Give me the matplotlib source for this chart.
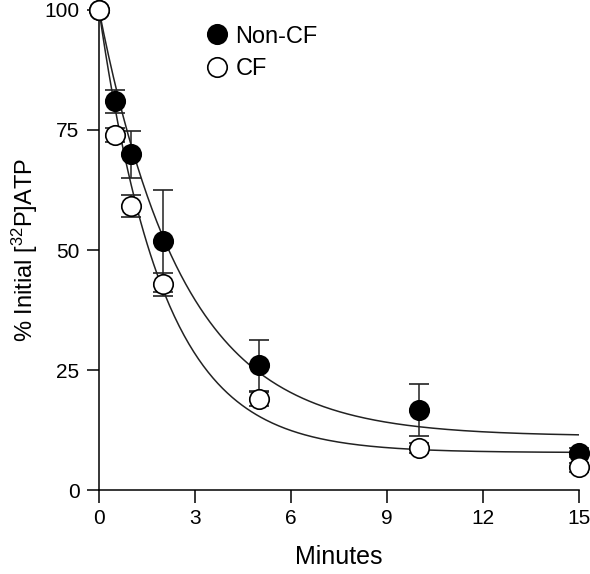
import numpy as np
import matplotlib.pyplot as plt
from matplotlib.lines import Line2D

plt.rcParams['font.family'] = ['Liberation Sans', 'DejaVu Sans']
plt.rcParams['mathtext.fontset'] = 'custom'
plt.rcParams['mathtext.rm'] = 'Liberation Sans'
plt.rcParams['mathtext.default'] = 'regular'

minutes = [0, 0.5, 1, 2, 5, 10, 15]
noncf = [100, 81.0, 69.9, 51.8, 26.0, 16.7, 7.8]
noncf_err = [0, 2.4, 4.9, 10.6, 5.3, 5.4, 1.0]
cf = [100, 73.9, 59.1, 42.9, 18.9, 8.7, 4.7]
cf_err = [0, 1.5, 2.3, 2.4, 1.5, 1.0, 1.0]

# one-phase decay fits: plateau, rate
noncf_fit = (11.2, 0.38)
cf_fit = (7.8, 0.50)

xticks = [0, 3, 6, 9, 12, 15]
yticks = [0, 25, 50, 75, 100]

fig = plt.figure(figsize=(5.9, 5.74), dpi=100)
ax = fig.add_axes([0.1678, 0.1463, 0.8136, 0.8363])

t = np.linspace(0, 15, 300)
for (p, k) in (noncf_fit, cf_fit):
    ax.plot(t, p + (100 - p) * np.exp(-k * t), color='#222222', lw=1.1, zorder=2)

ax.errorbar(minutes, noncf, yerr=noncf_err, fmt='o', ms=14, mfc='black', mec='black',
            mew=1.2, ecolor='#222222', elinewidth=1.1, capsize=7, capthick=1.1,
            zorder=3, clip_on=False)
ax.errorbar(minutes, cf, yerr=cf_err, fmt='o', ms=14, mfc='white', mec='black',
            mew=1.2, ecolor='#222222', elinewidth=1.1, capsize=7, capthick=1.1,
            zorder=4, clip_on=False)

ax.set_xlim(0, 15)
ax.set_ylim(0, 100)
ax.set_xticks(xticks)
ax.set_yticks(yticks)
ax.spines['top'].set_visible(False)
ax.spines['right'].set_visible(False)
for s in ('left', 'bottom'):
    ax.spines[s].set_linewidth(1.1)
ax.tick_params(direction='out', length=9, width=1.1, labelsize=15, pad=5)

ax.set_xlabel('Minutes', fontsize=18, labelpad=12)
ax.set_ylabel('% Initial [$^{32}$P]ATP', fontsize=17, labelpad=3)

handles = [Line2D([], [], marker='o', ls='', ms=14, mfc='black', mec='black', mew=1.2),
           Line2D([], [], marker='o', ls='', ms=14, mfc='white', mec='black', mew=1.2)]
ax.legend(handles, ['Non-CF', 'CF'], loc='upper left', bbox_to_anchor=(0.196, 0.987),
          frameon=False, fontsize=17, handletextpad=0.2, labelspacing=0.45,
          borderaxespad=0, handlelength=1.2)

fig.savefig('out.png', dpi=100)
